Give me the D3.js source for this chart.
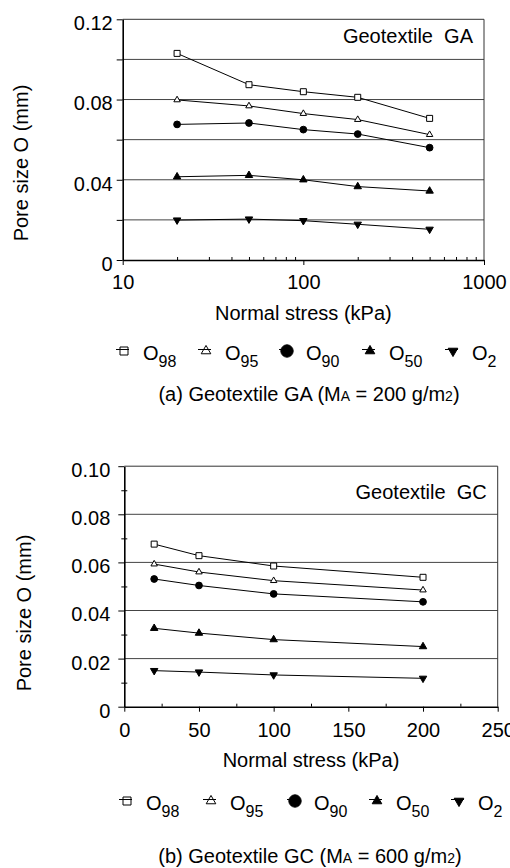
<!DOCTYPE html>
<html>
<head>
  <meta charset="utf-8">
  <title>Pore size vs normal stress</title>
  <style>
    body { margin: 0; background: #fff; }
    svg { display: block; font-family: "Liberation Sans", Arial, sans-serif; }
    text { fill: #000; }
  </style>
  <script src="https://cdn.jsdelivr.net/npm/d3@7"></script>
</head>
<body>
<svg id="chart" width="510" height="868"></svg>
<script>

// series labels (subscripts of O)
var series = ["98", "95", "90", "50", "2"];

// (a) geotextile GA, log x axis
var stressA = [20, 50, 100, 200, 500];
var poreA98 = [0.1030, 0.0874, 0.0839, 0.0811, 0.0706];
var poreA95 = [0.0798, 0.0768, 0.0730, 0.0700, 0.0625];
var poreA90 = [0.0676, 0.0683, 0.0650, 0.0628, 0.0560];
var poreA50 = [0.0415, 0.0422, 0.0400, 0.0366, 0.0344];
var poreA2  = [0.0199, 0.0204, 0.0196, 0.0178, 0.0153];

// (b) geotextile GC, linear x axis
var stressC = [20, 50, 100, 200];
var poreC98 = [0.0676, 0.0628, 0.0585, 0.0538];
var poreC95 = [0.0593, 0.0560, 0.0524, 0.0485];
var poreC90 = [0.0531, 0.0504, 0.0469, 0.0436];
var poreC50 = [0.0326, 0.0306, 0.0279, 0.0250];
var poreC2  = [0.0150, 0.0144, 0.0132, 0.0118];

var xTicksA = [10, 100, 1000];
var yTicksA = [0, 0.04, 0.08, 0.12];
var xTicksC = [0, 50, 100, 150, 200, 250];
var yTicksC = [0, 0.02, 0.04, 0.06, 0.08, 0.10];

var svg = d3.select("#chart");

// marker per series: symbol, filled?, rotation
var markers = [
  {type: d3.symbolSquare,   fill: false, rot: 0,   size: 36, lsize: 64},
  {type: d3.symbolTriangle, fill: false, rot: 0,   size: 18, lsize: 40},
  {type: d3.symbolCircle,   fill: true,  rot: 0,   size: 36, lsize: 120},
  {type: d3.symbolTriangle, fill: true,  rot: 0,   size: 24, lsize: 40},
  {type: d3.symbolTriangle, fill: true,  rot: 180, size: 24, lsize: 40}
];

function drawMarker(g, i, x, y, size, hollow) {
  var m = markers[i];
  g.append("path")
    .attr("d", d3.symbol().type(m.type).size(size)())
    .attr("transform", "translate(" + x + "," + y + ") rotate(" + m.rot + ")")
    .attr("fill", m.fill ? "#000" : (hollow ? "none" : "#fff"))
    .attr("stroke", "#000")
    .attr("stroke-width", 1);
}

function panel(p) {
  var g = svg.append("g");
  var x = p.x, y = p.y;
  var x0 = x.range()[0], x1 = x.range()[1];
  var y0 = y.range()[0], y1 = y.range()[1];

  // gridlines
  g.selectAll(".grid").data(p.grid).enter().append("line")
    .attr("x1", x0).attr("x2", x1)
    .attr("y1", function(d) { return y(d); })
    .attr("y2", function(d) { return y(d); })
    .attr("stroke", "#444").attr("stroke-width", 1);

  // top + right frame
  g.append("path")
    .attr("d", "M" + x0 + "," + y1 + "H" + x1 + "V" + y0)
    .attr("fill", "none").attr("stroke", "#333").attr("stroke-width", 1);

  // minor ticks
  var gx2 = g.append("g").attr("transform", "translate(0," + y0 + ")")
    .call(d3.axisBottom(x).tickValues(p.xMinor).tickSizeInner(-3).tickSizeOuter(0).tickFormat(""));
  gx2.select(".domain").remove();
  var gy2 = g.append("g").attr("transform", "translate(" + x0 + ",0)")
    .call(d3.axisLeft(y).tickValues(p.yMinor).tickSizeInner(p.yMinorSize).tickSizeOuter(0).tickFormat(""));
  gy2.select(".domain").remove();
  if (p.yMinorCross) gy2.selectAll(".tick line").attr("x1", 3);

  var gx = g.append("g").attr("transform", "translate(0," + y0 + ")")
    .call(d3.axisBottom(x).tickValues(p.xTicks).tickSizeInner(5).tickSizeOuter(0)
      .tickPadding(p.xPad).tickFormat(d3.format("d")));
  var gy = g.append("g").attr("transform", "translate(" + x0 + ",0)")
    .call(d3.axisLeft(y).tickValues(p.yTicks).tickSizeInner(6).tickSizeOuter(0)
      .tickPadding(p.yPad).tickFormat(p.yFormat));

  [gx, gy, gx2, gy2].forEach(function(a) {
    a.attr("font-family", null).attr("font-size", 20);
    a.selectAll("line").attr("stroke", "#000");
    a.select(".domain").attr("stroke", "#000").attr("stroke-width", 1.6);
  });
  gy.selectAll("text").attr("y", 4);
  gx.selectAll("text").attr("fill", "#000");
  gy.selectAll("text").attr("fill", "#000");

  // lines + markers
  var line = d3.line().x(function(d) { return x(d[0]); }).y(function(d) { return y(d[1]); });
  p.values.forEach(function(vals, i) {
    var pts = d3.zip(p.stress, vals);
    g.append("path").attr("d", line(pts))
      .attr("fill", "none").attr("stroke", "#000").attr("stroke-width", 1);
  });
  p.values.forEach(function(vals, i) {
    p.stress.forEach(function(s, j) { drawMarker(g, i, x(s), y(vals[j]), markers[i].size, false); });
  });

  // box title
  g.append("text").attr("x", p.title[1]).attr("y", p.title[2])
    .attr("text-anchor", "end").attr("font-size", 20)
    .style("white-space", "pre").text(p.title[0]);

  // axis titles
  g.append("text").attr("x", (x0 + x1) / 2).attr("y", p.xLabelY)
    .attr("text-anchor", "middle").attr("font-size", 20).text("Normal stress (kPa)");
  g.append("text").attr("transform", "translate(" + p.yLabel[0] + "," + p.yLabel[1] + ") rotate(-90)")
    .attr("text-anchor", "middle").attr("font-size", 20).text("Pore size O (mm)");

  // legend
  var lg = g.append("g");
  series.forEach(function(s, i) {
    var cx = p.legX[i], cy = p.legY;
    lg.append("line").attr("x1", cx - 8).attr("x2", cx + 5)
      .attr("y1", cy - 1.5).attr("y2", cy - 1.5).attr("stroke", "#000");
    drawMarker(lg, i, cx, cy, markers[i].lsize, true);
    var t = lg.append("text").attr("x", cx + 19).attr("y", cy + 9).attr("font-size", 20);
    t.append("tspan").text("O");
    t.append("tspan").attr("dy", 7).attr("font-size", 16).text(s);
  });

  // caption
  var c = g.append("text").attr("x", p.capX).attr("y", p.capY)
    .attr("text-anchor", "middle").attr("font-size", 20);
  c.append("tspan").text(p.caption[0]);
  c.append("tspan").attr("font-size", 14).text("A");
  c.append("tspan").text(p.caption[1]);
  c.append("tspan").attr("font-size", 14).text("2");
  c.append("tspan").text(")");
}

var minorLog = [];
[10, 100].forEach(function(d) { for (var k = 2; k <= 9; k++) minorLog.push(d * k); });

panel({
  x: d3.scaleLog().domain([10, 1000]).range([122.7, 484]),
  y: d3.scaleLinear().domain([0, 0.12]).range([260, 19.3]),
  stress: stressA,
  values: [poreA98, poreA95, poreA90, poreA50, poreA2],
  grid: [0.02, 0.04, 0.06, 0.08, 0.10],
  xTicks: xTicksA, xMinor: minorLog, xPad: 10,
  yTicks: yTicksA, yMinor: [0.02, 0.06, 0.10], yMinorSize: 6, yMinorCross: false,
  yPad: 4, yFormat: function(d) { return d === 0 ? "0" : d3.format(".2f")(d); },
  title: ["Geotextile  GA", 473, 43],
  xLabelY: 320,
  yLabel: [28, 163],
  legX: [124, 206, 287, 370, 453], legY: 351,
  caption: ["(a) Geotextile GA (M", " = 200 g/m"], capX: 309, capY: 401
});

panel({
  x: d3.scaleLinear().domain([0, 250]).range([124.3, 497.7]),
  y: d3.scaleLinear().domain([0, 0.10]).range([706.7, 466.2]),
  stress: stressC,
  values: [poreC98, poreC95, poreC90, poreC50, poreC2],
  grid: [0.02, 0.04, 0.06, 0.08],
  xTicks: xTicksC, xMinor: [25, 75, 125, 175, 225], xPad: 11,
  yTicks: yTicksC, yMinor: [0.01, 0.03, 0.05, 0.07, 0.09], yMinorSize: 3, yMinorCross: true,
  yPad: 8, yFormat: function(d) { return d === 0 ? "0" : d3.format(".2f")(d); },
  title: ["Geotextile  GC", 486.7, 499],
  xLabelY: 767,
  yLabel: [31, 613],
  legX: [127, 211, 295, 377, 459], legY: 801,
  caption: ["(b) Geotextile GC (M", " = 600 g/m"], capX: 310, capY: 863
});

</script>
</body>
</html>
